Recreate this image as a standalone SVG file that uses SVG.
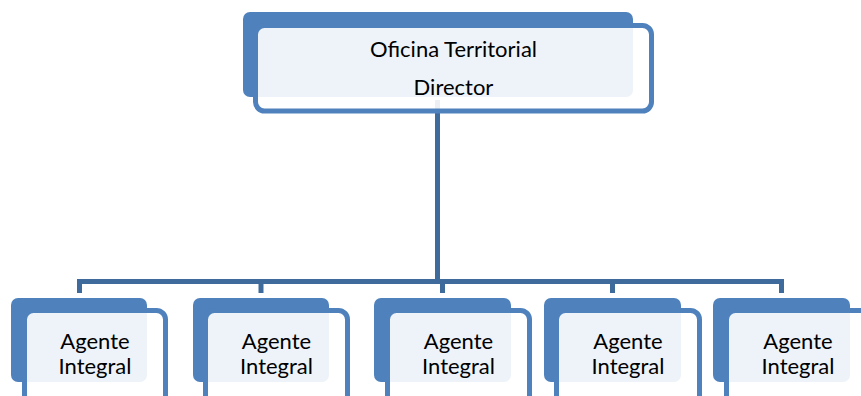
<svg xmlns="http://www.w3.org/2000/svg" width="861" height="396" viewBox="0 0 861 396">
<style>
.back{fill:#4F81BD;}
.front{fill:#FFFFFF;fill-opacity:0.9;stroke:#4F81BD;stroke-width:5;}
.conn{fill:none;stroke:#3F6A9C;stroke-width:5;}
.t{font-family:Lato,"Liberation Sans",sans-serif;font-size:22px;fill:#000;text-anchor:middle;}
</style>
<rect width="861" height="396" fill="#FFFFFF"/>
<g id="connectors">
<path class="conn" d="M437.5 100 V281"/>
<path class="conn" d="M79.5 293 V281.5 H781.5 V293"/>
<path class="conn" d="M261 281.5 V293"/>
<path class="conn" d="M442.5 281.5 V293"/>
<path class="conn" d="M612.5 281.5 V293"/>
</g>
<g id="node-top">
<rect class="back" x="243" y="12" width="390" height="85" rx="7"/>
<rect class="front" x="255.5" y="25.5" width="396" height="85.5" rx="9"/>
<text class="t" x="453.5" y="57">Oficina Territorial</text>
<text class="t" x="453.5" y="95">Director</text>
</g>
<g id="node-1">
<rect class="back" x="11" y="298" width="136" height="84" rx="7"/>
<rect class="front" x="24.5" y="310.5" width="141" height="100" rx="9"/>
<text class="t" x="95" y="349">Agente</text>
<text class="t" x="95" y="374">Integral</text>
</g>
<g id="node-2">
<rect class="back" x="193" y="298" width="136" height="84" rx="7"/>
<rect class="front" x="205.5" y="310.5" width="142" height="100" rx="9"/>
<text class="t" x="276.5" y="349">Agente</text>
<text class="t" x="276.5" y="374">Integral</text>
</g>
<g id="node-3">
<rect class="back" x="374" y="298" width="137" height="84" rx="7"/>
<rect class="front" x="387.5" y="310.5" width="142" height="100" rx="9"/>
<text class="t" x="458.5" y="349">Agente</text>
<text class="t" x="458.5" y="374">Integral</text>
</g>
<g id="node-4">
<rect class="back" x="544" y="298" width="137" height="84" rx="7"/>
<rect class="front" x="556.5" y="310.5" width="143" height="100" rx="9"/>
<text class="t" x="628" y="349">Agente</text>
<text class="t" x="628" y="374">Integral</text>
</g>
<g id="node-5">
<rect class="back" x="713" y="298" width="137" height="84" rx="7"/>
<rect class="front" x="726.5" y="310.5" width="143" height="100" rx="9"/>
<text class="t" x="798" y="349">Agente</text>
<text class="t" x="798" y="374">Integral</text>
</g>
</svg>
